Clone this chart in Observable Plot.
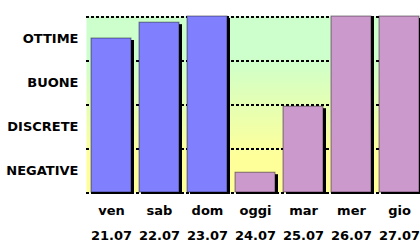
<!DOCTYPE html>
<html>
<head>
<meta charset="utf-8">
<script src="https://cdn.jsdelivr.net/npm/d3@7"></script>
<script src="https://cdn.jsdelivr.net/npm/@observablehq/plot@0.6"></script>
<style>
html,body{margin:0;padding:0;background:#fff;}
svg{display:block;}
</style>
</head>
<body>
<div id="chart"></div>
<script>
const days = ["ven","sab","dom","oggi","mar","mer","gio"];
const dates = ["21.07","22.07","23.07","24.07","25.07","26.07","27.07"];
const values = [3.5, 3.86, 4, 0.45, 1.95, 4, 4];
const kinds = ["past","past","past","future","future","future","future"];
const levelLabels = ["NEGATIVE","DISCRETE","BUONE","OTTIME"];
const levelTicks = [0.5, 1.5, 2.5, 3.5];

const data = days.map((d, i) => ({day: d, date: dates[i], value: values[i], kind: kinds[i]}));
const font = "DejaVu Sans, Verdana, sans-serif";

const defs = () => {
  const g = d3.create("svg:defs");
  const lg = g.append("linearGradient").attr("id", "bg").attr("x1", 0).attr("y1", 0).attr("x2", 0).attr("y2", 1);
  lg.append("stop").attr("offset", "0%").attr("stop-color", "#ccffcc");
  lg.append("stop").attr("offset", "22%").attr("stop-color", "#ccffcc");
  lg.append("stop").attr("offset", "80%").attr("stop-color", "#ffff99");
  lg.append("stop").attr("offset", "100%").attr("stop-color", "#ffff99");
  return g.node();
};

const chart = Plot.plot({
  width: 420,
  height: 242,
  marginLeft: 86,
  marginRight: 0,
  marginTop: 16,
  marginBottom: 50,
  style: {fontFamily: font, fontSize: "13px", fontWeight: "bold", color: "#000", background: "#fff", overflow: "hidden"},
  x: {domain: days, range: [86, 422], padding: 0, axis: null},
  y: {domain: [0, 4], axis: null},
  color: {domain: ["past","future"], range: ["#8080ff","#cc99cc"]},
  marks: [
    defs,
    Plot.frame({fill: "url(#bg)", stroke: null}),
    Plot.ruleY([0, 1, 2, 3, 4], {stroke: "#000", strokeWidth: 2, strokeDasharray: "3,2", shapeRendering: "crispEdges"}),
    Plot.barY(data, {x: "day", y: "value", fill: "#000", insetLeft: 5, insetRight: 3, dx: 3, dy: 2}),
    Plot.barY(data, {x: "day", y: "value", fill: "kind", stroke: "#000", strokeOpacity: 0.45, strokeWidth: 1, insetLeft: 5, insetRight: 3}),
    Plot.axisY(levelTicks, {tickFormat: (d, i) => levelLabels[i], label: null, tickSize: 0, tickPadding: 8, fontSize: 13, fontWeight: "bold", fill: "#000"}),
    Plot.text(data, {x: "day", text: "day", frameAnchor: "bottom", dy: 18, dx: 1, lineAnchor: "middle", fontSize: 13, fontWeight: "bold", fill: "#000"}),
    Plot.text(data, {x: "day", text: "date", frameAnchor: "bottom", dy: 43, dx: 1, lineAnchor: "middle", fontSize: 13, fontWeight: "bold", fill: "#000"})
  ]
});
document.getElementById("chart").appendChild(chart);
</script>
</body>
</html>
